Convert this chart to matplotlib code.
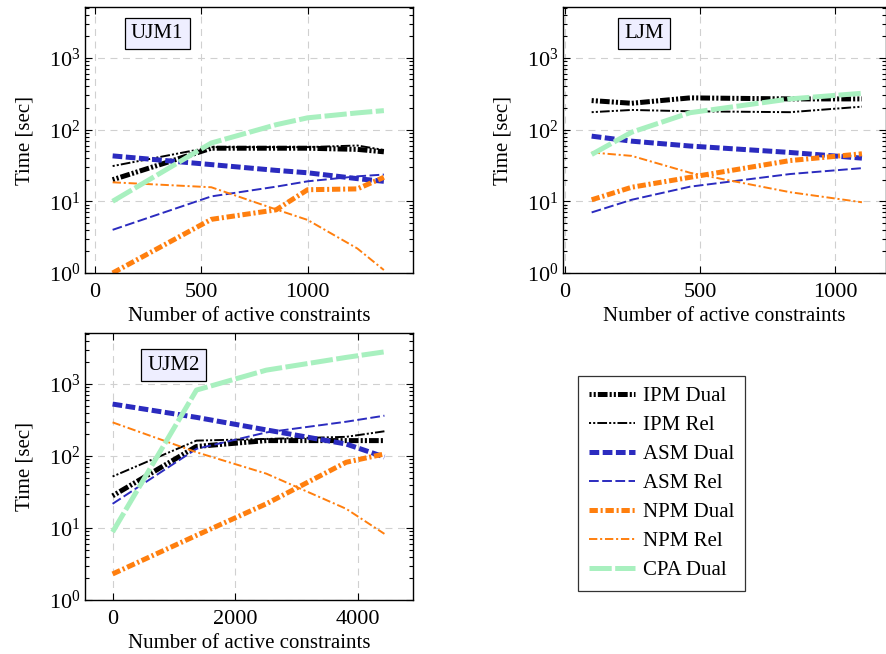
import matplotlib
matplotlib.use("Agg")
import matplotlib.pyplot as plt
from matplotlib.ticker import LogLocator, NullFormatter

plt.rcParams['font.family'] = ['Liberation Serif', 'DejaVu Serif']
plt.rcParams['mathtext.fontset'] = 'stix'
plt.rcParams['lines.scale_dashes'] = False

# series names in legend order
names = ['IPM Dual', 'IPM Rel', 'ASM Dual', 'ASM Rel', 'NPM Dual', 'NPM Rel', 'CPA Dual']

# UJM1
ujm1_x = [83, 547, 852, 1000, 1234, 1359]
ujm1 = {
    'IPM Dual': [20, 55, 55, 55, 53, 49],
    'IPM Rel': [31, 57, 57, 57, 60, 52],
    'ASM Dual': [43, 32.5, 27, 25, 20.7, 19],
    'ASM Rel': [4.0, 11.7, 16, 19, 22.3, 23.6],
    'NPM Dual': [1.0, 5.6, 7.6, 14.5, 14.9, 21.6],
    'NPM Rel': [18.4, 15.7, 7.7, 5.5, 2.2, 1.1],
    'CPA Dual': [10, 65, 117, 146, 171, 184],
}

# LJM
ljm_x = [99, 247, 463, 833, 1099]
ljm = {
    'IPM Dual': [254, 233, 277, 268, 268],
    'IPM Rel': [175, 188, 180, 175, 209],
    'ASM Dual': [81, 69, 59, 48, 40],
    'ASM Rel': [7.0, 10.5, 16, 24, 29],
    'NPM Dual': [10.5, 15.7, 21.6, 37, 46],
    'NPM Rel': [48, 43, 25, 13.4, 9.7],
    'CPA Dual': [45, 92, 172, 268, 321],
}

# UJM2
ujm2_x = [0, 1368, 2507, 3810, 4434]
ujm2 = {
    'IPM Dual': [28, 136, 164, 164, 164],
    'IPM Rel': [52, 164, 173, 185, 221],
    'ASM Dual': [528, 345, 231, 147, 97],
    'ASM Rel': [21.7, 126, 213, 300, 364],
    'NPM Dual': [2.3, 7.9, 21.7, 82, 107],
    'NPM Rel': [294, 113, 57, 18.5, 8.3],
    'CPA Dual': [8.8, 826, 1563, 2350, 2805],
}

blue = '#2b2bbf'
orange = '#ff7f0e'
green = '#a8f0bf'
styles = {
    'IPM Dual': dict(color='black', lw=3.6, dashes=(1.5, 1.5, 1.5, 1.5, 7, 1.5)),
    'IPM Rel': dict(color='black', lw=1.4, dashes=(1.5, 1.5, 1.5, 1.5, 7, 1.5)),
    'ASM Dual': dict(color=blue, lw=3.6, dashes=(7, 2.5)),
    'ASM Rel': dict(color=blue, lw=1.4, dashes=(7, 2.5)),
    'NPM Dual': dict(color=orange, lw=3.6, dashes=(6, 2, 1.5, 2)),
    'NPM Rel': dict(color=orange, lw=1.4, dashes=(6, 2, 1.5, 2)),
    'CPA Dual': dict(color=green, lw=3.6, dashes=(16, 2.5)),
}

fig = plt.figure(figsize=(8.87, 6.54), dpi=100)
ax1 = fig.add_axes([85 / 887, 1 - 273 / 654, 328 / 887, 266 / 654])
ax2 = fig.add_axes([563 / 887, 1 - 273 / 654, 323 / 887, 266 / 654])
ax3 = fig.add_axes([85 / 887, 1 - 600 / 654, 328 / 887, 267 / 654])

panels = [
    (ax1, ujm1_x, ujm1, 'UJM1', (-47, 1496), [0, 500, 1000], (0.22, 0.9)),
    (ax2, ljm_x, ljm, 'LJM', (-7, 1188), [0, 500, 1000], (0.25, 0.9)),
    (ax3, ujm2_x, ujm2, 'UJM2', (-450, 4900), [0, 2000, 4000], (0.27, 0.88)),
]

handles = []
for ax, xs, data, title, xlim, xt, tpos in panels:
    handles = []
    for n in names:
        h, = ax.plot(xs, data[n], label=n, **styles[n])
        handles.append(h)
    ax.set_yscale('log')
    ax.set_ylim(1, 10 ** 3.71)
    ax.set_xlim(*xlim)
    ax.set_xticks(xt)
    ax.yaxis.set_major_locator(LogLocator(base=10, numticks=10))
    ax.yaxis.set_minor_locator(LogLocator(base=10, subs=range(2, 10), numticks=10))
    ax.yaxis.set_minor_formatter(NullFormatter())
    ax.tick_params(which='both', direction='in', top=True, right=True, labelsize=16, width=0.8)
    ax.tick_params(which='major', length=5)
    ax.tick_params(which='minor', length=3)
    ax.tick_params(axis='x', pad=7)
    for sp in ax.spines.values():
        sp.set_linewidth(1.0)
    ax.grid(True, which='major', color='#d0d0d0', linestyle=(0, (5, 4)), lw=0.8)
    ax.set_xlabel('Number of active constraints', fontsize=15, labelpad=4)
    ax.set_ylabel('Time [sec]', fontsize=15, labelpad=10)
    ax.text(tpos[0], tpos[1], title, transform=ax.transAxes, fontsize=15,
            ha='center', va='center',
            bbox=dict(boxstyle='square,pad=0.3', fc='#eeeeff', ec='black', lw=0.9))

leg = fig.legend(handles, names, loc='upper left', bbox_to_anchor=(568 / 887, 1 - 366 / 654),
                 fontsize=15, frameon=True, fancybox=False, edgecolor='black',
                 handlelength=2.2, handletextpad=0.4, labelspacing=0.45, borderpad=0.5)
leg.get_frame().set_linewidth(0.9)

fig.savefig('out.png', dpi=100)
